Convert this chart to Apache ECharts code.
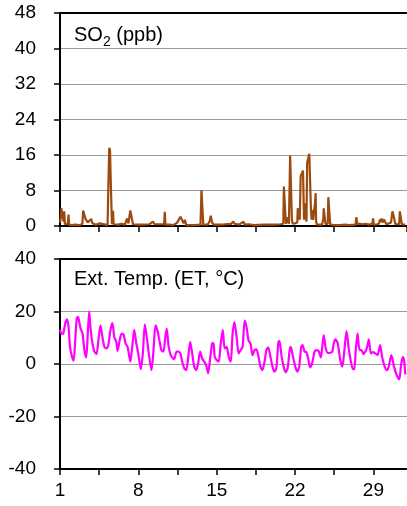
<!DOCTYPE html>
<html>
<head>
<meta charset="utf-8">
<script src="https://cdn.jsdelivr.net/npm/echarts@6/dist/echarts.min.js"></script>
<style>
html,body{margin:0;padding:0;background:#fff;}
#c{width:407px;height:506px;}
</style>
</head>
<body>
<div id="c"></div>
<script>
// X axis (day of month)
const xTickLabels = [1, 8, 15, 22, 29];
const soTicks = [0, 8, 16, 24, 32, 40, 48];
const tempTicks = [-40, -20, 0, 20, 40];

// SO2 (ppb)
const soDays = [1.00,1.05,1.12,1.25,1.32,1.38,1.44,1.60,1.70,1.76,1.81,2.10,2.30,2.36,2.42,2.80,3.00,3.07,3.17,3.28,3.38,3.48,3.60,3.78,3.90,4.02,4.20,4.55,4.70,5.25,5.33,5.40,5.47,5.53,5.60,5.64,5.70,5.74,5.79,6.20,6.50,6.80,7.00,7.12,7.28,7.42,7.52,7.80,8.50,9.00,9.30,9.45,10.30,10.36,10.42,10.80,11.10,11.45,11.60,11.76,11.92,12.05,12.16,12.28,13.00,13.55,13.64,13.72,13.80,14.20,14.38,14.47,14.58,14.75,15.50,16.30,16.48,16.60,17.00,17.40,17.50,17.90,18.30,19.20,20.20,20.70,20.95,21.00,21.12,21.18,21.30,21.36,21.45,21.52,21.56,21.66,21.72,21.80,22.00,22.20,22.24,22.36,22.42,22.50,22.62,22.71,22.80,22.88,22.96,23.02,23.08,23.20,23.27,23.36,23.42,23.48,23.54,23.62,23.70,23.78,23.84,23.88,23.95,24.40,24.52,24.56,24.66,24.72,24.92,24.97,25.08,25.14,25.40,26.00,26.50,26.80,27.40,27.48,27.55,27.80,28.00,28.30,28.60,28.90,28.97,29.04,29.30,29.50,29.57,29.64,29.72,29.80,29.95,30.07,30.15,30.40,30.58,30.64,30.70,30.82,30.90,30.96,31.10,31.30,31.36,31.48,31.54,31.85];
const soVals = [0.8,1.4,4.0,3.9,1.0,3.3,0.4,0.3,0.5,2.6,0.3,0.2,0.3,0.7,0.2,0.2,0.5,3.5,3.7,1.6,1.8,0.8,1.2,1.6,0.6,0.6,0.3,0.6,0.2,0.2,10.0,17.6,17.0,10.5,10.3,0.4,0.5,3.4,0.4,0.3,0.5,0.3,1.7,0.6,3.5,3.6,0.4,0.3,0.3,0.4,1.0,0.4,0.4,3.2,0.3,0.3,0.2,0.7,0.3,2.1,2.1,0.6,1.4,0.2,0.2,0.3,8.1,7.7,0.3,0.3,1.2,2.3,0.8,0.3,0.3,0.5,1.0,0.5,0.3,1.0,0.3,0.4,0.2,0.3,0.3,0.4,0.5,8.9,8.7,0.5,1.2,2.0,0.5,0.4,15.9,15.8,1.2,0.5,0.6,0.8,4.0,4.0,1.4,11.2,11.9,12.5,1.4,5.1,4.7,1.0,14.2,14.4,16.3,16.3,3.6,1.4,3.6,1.4,3.6,5.1,7.4,1.0,0.3,0.3,1.5,4.0,4.0,0.4,0.5,6.5,6.2,0.4,0.2,0.2,0.3,0.2,0.3,2.0,0.5,0.5,0.4,0.5,0.3,0.5,1.7,0.3,0.4,0.5,1.5,0.9,1.7,0.8,1.5,1.6,0.4,0.6,0.8,2.2,3.3,3.0,1.2,0.4,0.3,0.4,3.3,3.2,0.4,0.3];

// External temperature (°C)
const tempDays = [1.00,1.15,1.30,1.47,1.62,1.77,1.89,2.07,2.22,2.36,2.50,2.62,2.72,2.84,3.01,3.19,3.34,3.50,3.61,3.72,3.90,4.08,4.26,4.43,4.61,4.79,4.97,5.14,5.32,5.50,5.68,5.85,6.03,6.15,6.33,6.51,6.68,6.86,7.04,7.28,7.45,7.63,7.81,7.99,8.22,8.40,8.58,8.76,8.93,9.17,9.35,9.53,9.70,9.88,10.06,10.24,10.41,10.53,10.71,10.89,11.18,11.42,11.57,11.75,11.92,12.10,12.28,12.46,12.63,12.81,12.99,13.17,13.34,13.52,13.70,13.88,14.06,14.23,14.41,14.59,14.71,14.82,15.00,15.18,15.36,15.54,15.71,15.89,16.07,16.25,16.42,16.58,16.78,16.96,17.13,17.31,17.50,17.67,17.84,18.02,18.20,18.38,18.55,18.73,18.91,19.09,19.27,19.44,19.60,19.80,19.98,20.15,20.33,20.51,20.60,20.80,20.98,21.16,21.34,21.52,21.62,21.81,22.02,22.20,22.37,22.55,22.67,22.85,23.02,23.20,23.35,23.56,23.74,23.94,24.12,24.30,24.42,24.56,24.74,24.95,25.15,25.33,25.45,25.60,25.81,26.04,26.22,26.40,26.60,26.81,26.99,27.17,27.29,27.42,27.58,27.76,27.94,28.10,28.24,28.41,28.59,28.77,28.95,29.12,29.36,29.60,29.77,30.01,30.19,30.37,30.60,30.84,31.08,31.31,31.45,31.55,31.65,31.75,31.85];
const tempVals = [13,11.5,11.8,15.5,17,14,6.5,2.8,1.3,9,17.5,18,16,13.5,11.6,5,2.5,13,20,14,7.8,4.7,3.8,9,14.7,10.3,6.5,5.9,7.2,12.8,15.6,10.3,8.4,5,9,11.6,11.2,7.8,6.5,0.9,6.5,13,8,4,-2,4,15.1,10,4,-2.3,5,14.7,12.8,9,5.3,4.7,10.3,13.5,6.5,3.4,1.8,4.7,4.7,4,0.9,-1.6,-2.3,2.8,8.4,4,-1,-2.3,0.3,4.7,2.1,0.9,-0.4,-3.5,2,7.8,8,2.8,1.5,0.9,7.8,13,5.9,6.5,2.8,0.9,11.6,16,10.3,4,5.3,6.5,16.5,14,9,7.8,3.4,5.3,5.6,2.8,-1,-2.3,0.9,5.3,6.3,2.8,-1,-2.9,-1.5,8.4,8.8,2.8,-1,-3.2,-1.5,5.3,6.5,2.8,-1,-2.9,-1,6.5,7.2,4.7,4.5,1.5,-1.3,0.9,4.7,5.3,4.8,2.5,6,11,6,4.2,4.3,4.7,7.8,9.4,7.9,1.5,-1,5,12.5,5.3,1,-2,-2,5,11.7,5.3,5.3,3.8,4.5,6,9.4,4,4.5,4.2,3.4,7.2,2.8,-1,-2.3,-1,3.4,-1,-4.2,-5.8,-1,1.5,2.6,1,-4];

const FONT = '"Liberation Sans", Arial, sans-serif';
const zip = (a, b) => a.map((d, i) => [d, b[i]]);

const chart = echarts.init(document.getElementById('c'), null, {renderer: 'canvas'});

function xAxisCfg(gridIndex, showLabels) {
  return {
    type: 'value', gridIndex, min: 1, max: 32, interval: 3.5,
    axisLine: {show: true, onZero: false, lineStyle: {color: '#000', width: 2}},
    axisTick: {show: true, inside: false, length: 6, lineStyle: {color: '#000', width: 1.5}},
    splitLine: {show: false},
    axisLabel: {
      show: showLabels, margin: 12, color: '#000', fontSize: 19, fontFamily: FONT,
      formatter: v => xTickLabels.includes(v) ? String(v) : '',
      showMinLabel: true, showMaxLabel: false
    }
  };
}
function topBorder(gridIndex) {
  return {
    type: 'value', gridIndex, position: 'top', min: 1, max: 32,
    axisLine: {show: true, onZero: false, lineStyle: {color: '#000', width: 2}},
    axisTick: {show: false}, axisLabel: {show: false}, splitLine: {show: false}
  };
}
function yAxisCfg(gridIndex, ticks) {
  return {
    type: 'value', gridIndex, min: ticks[0], max: ticks[ticks.length - 1],
    interval: ticks[1] - ticks[0],
    axisLine: {show: true, onZero: false, lineStyle: {color: '#000', width: 2}},
    axisTick: {show: true, inside: false, length: 6, lineStyle: {color: '#000', width: 1.5}},
    splitLine: {show: true, lineStyle: {color: '#9a9a9a', width: 1}},
    axisLabel: {margin: 24, color: '#000', fontSize: 19, fontFamily: FONT}
  };
}

chart.setOption({
  animation: false,
  backgroundColor: '#fff',
  title: [
    {
      text: '{a|SO}{s|2}{a| (ppb)}', left: 74, top: 21, padding: 0,
      textStyle: {
        fontWeight: 'normal',
        rich: {
          a: {fontSize: 20, lineHeight: 28, fontWeight: 'normal', color: '#000', fontFamily: FONT},
          s: {fontSize: 14, lineHeight: 14, fontWeight: 'normal', verticalAlign: 'bottom', color: '#000', fontFamily: FONT}
        }
      }
    },
    {
      text: 'Ext. Temp. (ET, °C)', left: 74, top: 265, padding: 0,
      textStyle: {fontSize: 20, lineHeight: 28, fontWeight: 'normal', color: '#000', fontFamily: FONT}
    }
  ],
  grid: [
    {left: 60, right: -2, top: 13, height: 213},
    {left: 60, right: -2, top: 259, height: 210}
  ],
  xAxis: [xAxisCfg(0, false), xAxisCfg(1, true), topBorder(0), topBorder(1)],
  yAxis: [yAxisCfg(0, soTicks), yAxisCfg(1, tempTicks)],
  series: [
    {
      type: 'line', xAxisIndex: 0, yAxisIndex: 0, data: zip(soDays, soVals),
      showSymbol: false, lineStyle: {color: '#9c4a0f', width: 2.2}, itemStyle: {color: '#9c4a0f'}
    },
    {
      type: 'line', xAxisIndex: 1, yAxisIndex: 1, data: zip(tempDays, tempVals),
      showSymbol: false, smooth: 0.25, lineStyle: {color: '#ff00ff', width: 2.2}, itemStyle: {color: '#ff00ff'}
    }
  ]
});
</script>
</body>
</html>
